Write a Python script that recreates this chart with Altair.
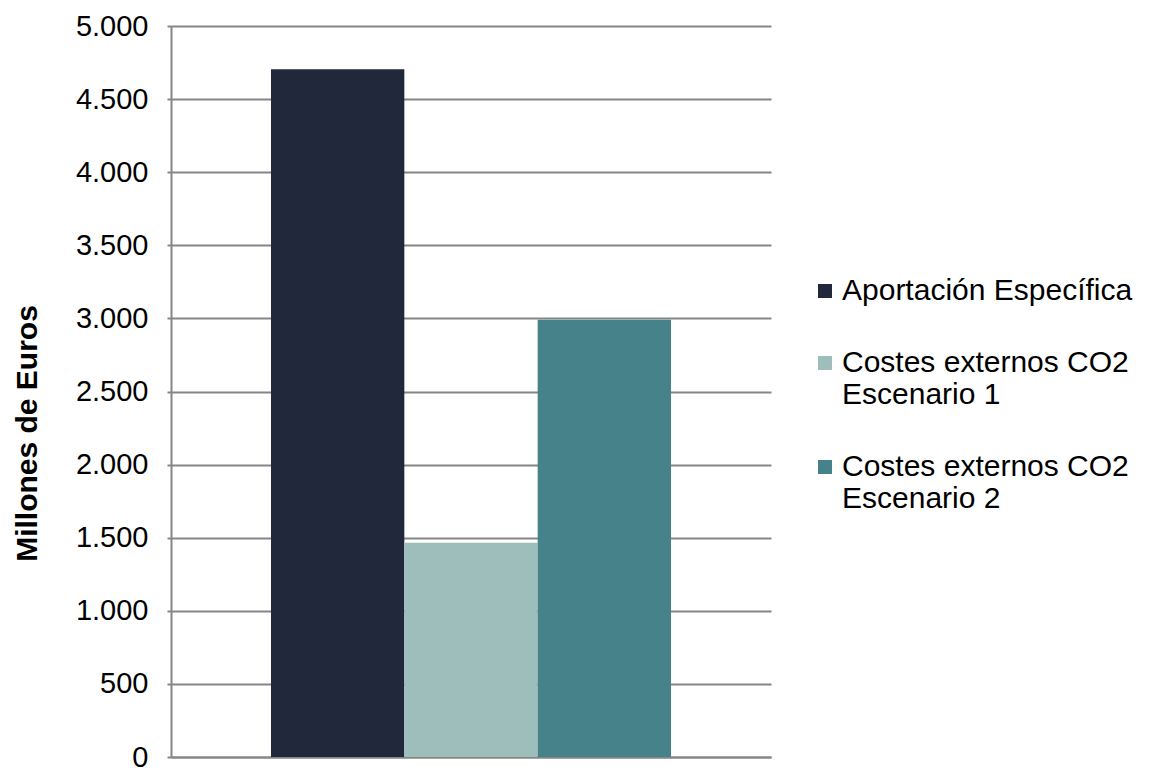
import altair as alt
import pandas as pd

series = ["Aportación Específica",
          "Costes externos CO2\nEscenario 1",
          "Costes externos CO2\nEscenario 2"]
values = [4705, 1465, 2990]
colors = ["#21283B", "#9EBEBC", "#46828A"]
y_ticks = [0, 500, 1000, 1500, 2000, 2500, 3000, 3500, 4000, 4500, 5000]

df = pd.DataFrame({"serie": series, "valor": values})

FONT = "Liberation Sans"
GRID = "#868686"

chart = alt.Chart(df).mark_bar().encode(
    x=alt.X("serie:N", sort=series,
            scale=alt.Scale(paddingInner=0, paddingOuter=0.75),
            axis=alt.Axis(title=None, labels=False, ticks=False, grid=False,
                          domainColor=GRID, domainWidth=2)),
    y=alt.Y("valor:Q",
            scale=alt.Scale(domain=[0, 5000], nice=False),
            axis=alt.Axis(title="Millones de Euros", values=y_ticks,
                          labelExpr="replace(format(datum.value, ','), ',', '.')",
                          labelFont=FONT, labelFontSize=29, labelColor="black",
                          labelPadding=19, tickSize=4, tickColor=GRID, tickWidth=2,
                          domainColor=GRID, domainWidth=2,
                          gridColor=GRID, gridWidth=2,
                          titleFont=FONT, titleFontSize=30, titleFontWeight="bold",
                          titleColor="black", titlePadding=33, titleY=407)),
    color=alt.Color("serie:N", sort=series,
                    scale=alt.Scale(domain=series, range=colors),
                    legend=alt.Legend(title=None, orient="none",
                                      legendX=639, legendY=250,
                                      labelExpr="split(datum.label, '\\n')",
                                      labelFont=FONT, labelFontSize=30,
                                      labelColor="black", labelLimit=400,
                                      symbolType="square", symbolSize=196,
                                      symbolStrokeWidth=0, labelOffset=2,
                                      rowPadding=42, padding=0)),
).properties(
    width=600, height=731,
    background="white",
    autosize=alt.AutoSizeParams(type="none"),
    padding={"left": 171, "top": 26, "right": 384, "bottom": 15},
).configure_view(stroke=None, strokeOpacity=0)

chart.save("out.html", embed_options={"renderer": "svg", "actions": False})
